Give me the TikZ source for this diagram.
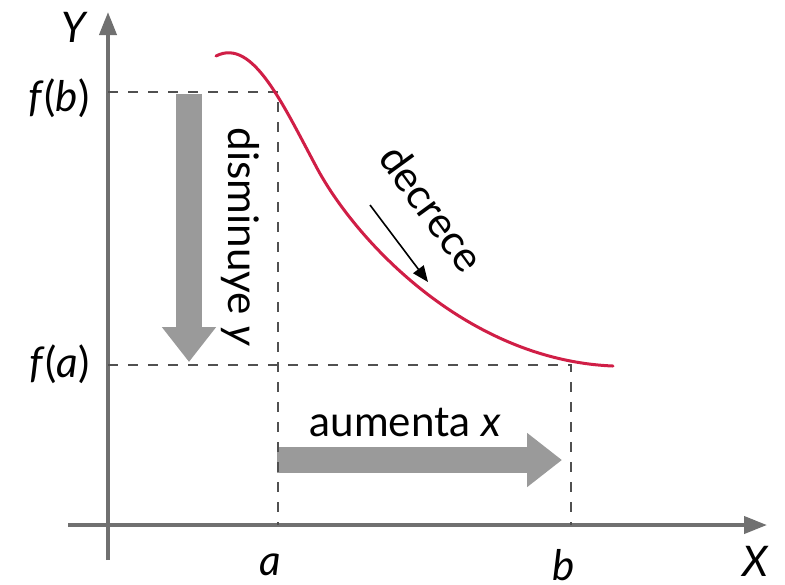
\documentclass[tikz,border=0pt]{standalone}
\usepackage{fontspec}
\setmainfont{Lato}
\usepackage{xcolor}
\usetikzlibrary{arrows.meta}
\definecolor{AxisGray}{HTML}{707070}
\definecolor{DashGray}{HTML}{505050}
\definecolor{ArrowGray}{HTML}{9A9A9A}
\definecolor{CurveRed}{HTML}{D01E46}
\tikzset{
  axisline/.style={-{Triangle[length=2.3mm,width=1.7mm]}, line width=0.4mm, draw=AxisGray},
  guidedash/.style={draw=DashGray, line width=0.22mm, dash pattern=on 1mm off 1mm},
  bigarrow/.style={-{Triangle[length=3.5mm,width=5.2mm]}, line width=2.6mm, draw=ArrowGray},
  smallarrow/.style={-{Triangle[length=1.6mm,width=1.3mm]}, line width=0.16mm, draw=black},
  ticklabel/.style={inner sep=0pt}
}

\begin{document}
\begin{tikzpicture}[
  x=0.1mm, y=0.1mm,
  font=\fontsize{12}{14}\selectfont,
  curve/.style={draw=CurveRed, line width=0.3mm, line cap=round}
]
\useasboundingbox (-108,-59) rectangle (677,525);

\coordinate (O) at (0,0);
\coordinate (ybot) at (0,-35);
\coordinate (ytop) at (0,513);
\coordinate (xleft) at (-40,0);
\coordinate (xright) at (659,0);
\coordinate (fb) at (0,433);
\coordinate (fa) at (0,160);
\coordinate (a) at (170,0);
\coordinate (b) at (463,0);
\coordinate (afb) at (170,433);
\coordinate (bfa) at (463,160);

% big gray arrows (drawn first, under the guides)
\coordinate (downstart) at (81,431);
\coordinate (downend) at (81,163);
\coordinate (rightstart) at (169,65);
\coordinate (rightend) at (454,65);
\draw[bigarrow] (downstart) -- (downend);
\draw[bigarrow] (rightstart) -- (rightend);

% axes
\draw[axisline] (ybot) -- (ytop);
\draw[axisline] (xleft) -- (xright);

% dashed guides
\draw[guidedash] (fb) -- (afb) -- (a);
\draw[guidedash] (fa) -- (bfa) -- (b);

% the function
\coordinate (cstart) at (108,469);
\coordinate (cturn) at (210,355);
\coordinate (cend) at (505,159);
\draw[curve] (cstart) .. controls (145,488) and (175,420) .. (cturn)
  .. controls (250,282) and (360,165) .. (cend);

% labels
\node[ticklabel] (ylab) at (-33,498) {\textit{Y}};
\node[ticklabel] (xlab) at (648,-36) {\textit{X}};
\node[ticklabel, anchor=east] (fblab) at (-18,427) {\textit{f}(\textit{b})};
\node[ticklabel, anchor=east] (falab) at (-18,161) {\textit{f}(\textit{a})};
\node[ticklabel] (alab) at (162,-40) {\textit{a}};
\node[ticklabel] (blab) at (456,-40) {\textit{b}};
\node[ticklabel, anchor=base west] (aumenta) at (201,89) {aumenta \textit{x}};
\node[ticklabel, anchor=base west, rotate=-90] (disminuye) at (120,398) {disminuye \textit{y}};
\node[ticklabel, rotate=-54] (decrece) at (324,317) {decrece};

% hint arrow along the curve
\coordinate (hintstart) at (262,320);
\coordinate (hintend) at (320,243);
\draw[smallarrow] (hintstart) -- (hintend);
\end{tikzpicture}
\end{document}
